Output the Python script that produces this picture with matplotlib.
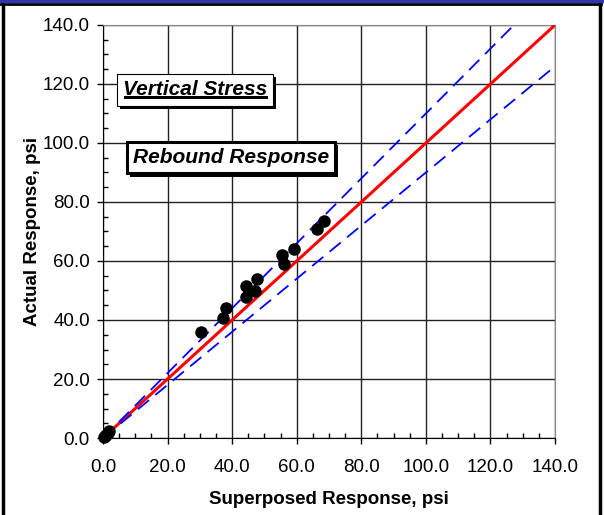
import matplotlib
matplotlib.use("Agg")
import matplotlib.pyplot as plt
import matplotlib.patheffects as pe
from matplotlib.lines import Line2D
import numpy as np

plt.rcParams["font.family"] = ["Liberation Sans", "DejaVu Sans"]

# measured points (superposed, actual), psi
superposed = [0.2, 0.5, 0.9, 1.4, 2.0,
              30.2, 37.1, 38.0, 44.2, 44.2, 47.1, 47.6,
              55.4, 56.1, 59.3, 66.2, 68.3]
actual = [0.2, 0.6, 1.0, 1.6, 2.3,
          36.0, 40.6, 44.2, 47.9, 51.4, 49.8, 53.9,
          62.0, 58.9, 64.1, 70.7, 73.7]

line_x = [0.0, 140.0]
upper_factor = 1.1
lower_factor = 0.9

ticks = [0, 20, 40, 60, 80, 100, 120, 140]
tick_labels = ["0.0", "20.0", "40.0", "60.0", "80.0", "100.0", "120.0", "140.0"]
minor_ticks = list(range(0, 141, 5))


def main():
    fig = plt.figure(figsize=(6.04, 5.15), dpi=100)
    ax = fig.add_axes([0.1705, 0.1495, 0.7485, 0.802])

    lx = np.array(line_x)
    ax.plot(lx, lx, color="#ff0000", lw=2.2, zorder=3)
    ax.plot(lx, lx * upper_factor, color="#0000ff", lw=1.3,
            dashes=(8, 4.5), zorder=3)
    ax.plot(lx, lx * lower_factor, color="#0000ff", lw=1.3,
            dashes=(8, 4.5), zorder=3)
    ax.plot(superposed, actual, "o", color="black", ms=8, zorder=4,
            clip_on=False)

    ax.set_xlim(0, 140)
    ax.set_ylim(0, 140)
    ax.set_xticks(ticks)
    ax.set_xticklabels(tick_labels)
    ax.set_yticks(ticks)
    ax.set_yticklabels(tick_labels)
    ax.set_xticks(minor_ticks, minor=True)
    ax.set_yticks(minor_ticks, minor=True)
    ax.tick_params(which="major", direction="out", length=4.5, width=1,
                   labelsize=13.5, pad=5)
    ax.tick_params(axis="x", which="major", pad=10.5)
    ax.tick_params(which="minor", direction="in", length=3.5, width=1)
    ax.grid(True, which="major", color="#222222", lw=1)
    ax.set_axisbelow(True)
    for side in ["top", "right"]:
        ax.spines[side].set_color("#888888")
    for side in ["left", "bottom"]:
        ax.spines[side].set_color("black")

    ax.set_xlabel("Superposed Response, psi", fontsize=13.5,
                  fontweight="bold", labelpad=11)
    ax.set_ylabel("Actual Response, psi", fontsize=13.5,
                  fontweight="bold", labelpad=1)

    shadow = [pe.withSimplePatchShadow(offset=(2.2, -2.2),
                                       shadow_rgbFace="black", alpha=1.0)]
    t1 = ax.text(28.5, 118, "Vertical Stress", fontsize=15,
                 fontweight="bold", fontstyle="italic", ha="center",
                 va="center", zorder=6,
                 bbox=dict(boxstyle="square,pad=0.3", fc="white",
                           ec="black", lw=0.8))
    t1.get_bbox_patch().set_path_effects(shadow)
    t2 = ax.text(39.6, 95, "Rebound Response", fontsize=15,
                 fontweight="bold", fontstyle="italic", ha="center",
                 va="center", zorder=6,
                 bbox=dict(boxstyle="square,pad=0.3", fc="white",
                           ec="black", lw=2.2))
    t2.get_bbox_patch().set_path_effects(shadow)

    # underline for the first label
    fig.canvas.draw()
    bb = t1.get_window_extent().transformed(fig.transFigure.inverted())
    fig.add_artist(Line2D([bb.x0 + 0.004, bb.x1 - 0.002],
                          [bb.y0 + 0.005, bb.y0 + 0.005],
                          color="black", lw=2.2, zorder=7))

    # slide frame
    fig.add_artist(Line2D([0.005, 0.005], [0, 0.995], color="black", lw=2.5))
    fig.add_artist(Line2D([0.993, 0.993], [0, 0.995], color="black", lw=2.5))
    fig.add_artist(Line2D([0, 0.995], [0.993, 0.993], color="black", lw=2))
    fig.add_artist(Line2D([0, 1], [0.998, 0.998], color="#2f36a6", lw=2.5))

    fig.savefig("out.png", dpi=100)


if __name__ == "__main__":
    main()
